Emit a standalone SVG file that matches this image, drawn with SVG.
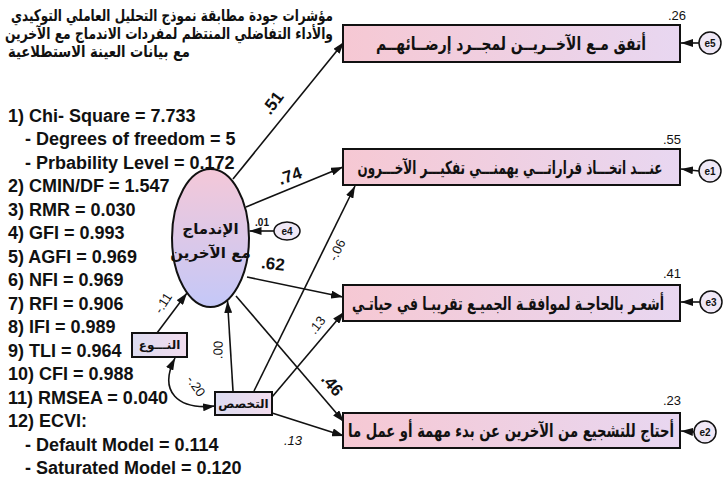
<svg xmlns="http://www.w3.org/2000/svg" width="724" height="479" viewBox="0 0 724 479">
<style>
.stat{font-family:"Liberation Sans",Arial,sans-serif;font-weight:bold;font-size:18px;fill:#111}
.ar{font-family:"DejaVu Sans","Noto Sans",sans-serif;font-weight:bold;fill:#111}
.box{stroke:#111;stroke-width:2;fill:url(#gBox)}
.sbox{stroke:#111;stroke-width:2;fill:url(#gSmall)}
.err{stroke:#111;stroke-width:1.5;fill:#efe8f6}
.edge{stroke:#111;stroke-width:1.6;fill:none;marker-end:url(#ah)}
.big{font-family:"Liberation Sans",Arial,sans-serif;font-weight:bold;font-size:17px;fill:#111}
.sm{font-family:"Liberation Sans",Arial,sans-serif;font-size:13px;fill:#111}
.et{font-family:"Liberation Sans",Arial,sans-serif;font-size:10px;font-weight:bold;fill:#111}
</style>
<defs>
<linearGradient id="gBox" x1="0" y1="0" x2="1" y2="0">
<stop offset="0" stop-color="#f6c8d3"/><stop offset="1" stop-color="#e8d7f1"/>
</linearGradient>
<linearGradient id="gSmall" x1="0" y1="0" x2="1" y2="0">
<stop offset="0" stop-color="#dcdcf0"/><stop offset="1" stop-color="#f2dcee"/>
</linearGradient>
<linearGradient id="gEll" x1="0" y1="0" x2="0" y2="1">
<stop offset="0" stop-color="#f4c8d8"/><stop offset="1" stop-color="#c4c8f8"/>
</linearGradient>
<marker id="ah" viewBox="0 0 12 8" refX="12" refY="4" markerWidth="12" markerHeight="8" markerUnits="userSpaceOnUse" orient="auto-start-reverse">
<path d="M0,0 L12,4 L0,8 Z" fill="#111"/>
</marker>
</defs>

<g id="title">
<text class="ar" font-size="16" x="333" y="21" text-anchor="end" textLength="322" lengthAdjust="spacingAndGlyphs">مؤشرات جودة مطابقة نموذج التحليل العاملي التوكيدي</text>
<text class="ar" font-size="16" x="333" y="39" text-anchor="end" textLength="328" lengthAdjust="spacingAndGlyphs">والأداء التفاضلي المنتظم لمفردات الاندماج مع الآخرين</text>
<text class="ar" font-size="16" x="8" y="57" text-anchor="start" textLength="182" lengthAdjust="spacingAndGlyphs">مع بيانات العينة الاستطلاعية</text>
</g>

<g id="stats">
<text class="stat" x="8" y="121.5">1) Chi- Square = 7.733</text>
<text class="stat" x="25" y="145">- Degrees of freedom = 5</text>
<text class="stat" x="25" y="168.5">- Prbability Level = 0.172</text>
<text class="stat" x="8" y="192">2) CMIN/DF = 1.547</text>
<text class="stat" x="8" y="215.5">3) RMR = 0.030</text>
<text class="stat" x="8" y="239">4) GFI = 0.993</text>
<text class="stat" x="8" y="262.5">5) AGFI = 0.969</text>
<text class="stat" x="8" y="286">6) NFI = 0.969</text>
<text class="stat" x="8" y="309.5">7) RFI = 0.906</text>
<text class="stat" x="8" y="333">8) IFI = 0.989</text>
<text class="stat" x="8" y="356.5">9) TLI = 0.964</text>
<text class="stat" x="8" y="380">10) CFI = 0.988</text>
<text class="stat" x="8" y="403.5">11) RMSEA = 0.040</text>
<text class="stat" x="8" y="427">12) ECVI:</text>
<text class="stat" x="25" y="450.5">- Default Model = 0.114</text>
<text class="stat" x="25" y="474">- Saturated Model = 0.120</text>
</g>

<g id="connectors">
<path class="edge" d="M233,179 L344,42"/>
<path class="edge" d="M246,207 L343,167"/>
<path class="edge" d="M247,277 L343,297"/>
<path class="edge" d="M236,296 L344,422"/>
<path class="edge" d="M274,231 L249.5,231"/>
<path class="edge" d="M157,333 L187,293"/>
<path class="edge" d="M233,391 L227.5,301"/>
<path class="edge" d="M254,391 L355,186"/>
<path class="edge" d="M272,397 L344,312"/>
<path class="edge" d="M272,413 L344,436"/>
<path class="edge" d="M175,358 C158,392 178,410 215,406" style="marker-start:url(#ah)"/>
<path class="edge" d="M699,43 L681,43"/>
<path class="edge" d="M699,171 L681,169"/>
<path class="edge" d="M700,302 L681,302"/>
<path class="edge" d="M694,432 L681,431"/>
</g>

<g id="labels">
<text class="big" x="273" y="103" text-anchor="middle" dominant-baseline="central" transform="rotate(-53 273 103)">.51</text>
<text class="big" x="290" y="176" text-anchor="middle" dominant-baseline="central" transform="rotate(-18 290 176)">.74</text>
<text class="big" x="273" y="264" text-anchor="middle" dominant-baseline="central" transform="rotate(6 273 264)">.62</text>
<text class="big" x="332" y="385" text-anchor="middle" dominant-baseline="central" transform="rotate(50 332 385)">.46</text>
<text class="et" x="262" y="222" text-anchor="middle" dominant-baseline="central">.01</text>
<text class="sm" x="337" y="250" text-anchor="middle" dominant-baseline="central" transform="rotate(-64 337 250)">-.06</text>
<text class="sm" x="317" y="325" text-anchor="middle" dominant-baseline="central" transform="rotate(-52 317 325)">.13</text>
<text class="sm" x="218" y="350" text-anchor="middle" dominant-baseline="central" transform="rotate(-88 218 350)">.00</text>
<text class="sm" x="196" y="386" text-anchor="middle" dominant-baseline="central" transform="rotate(55 196 386)">-.20</text>
<text class="sm" x="163" y="303" text-anchor="middle" dominant-baseline="central" transform="rotate(-58 163 303)">-.11</text>
<text class="sm" x="293" y="440" text-anchor="middle" dominant-baseline="central" font-style="italic">.13</text>
<text class="sm" x="677" y="15" text-anchor="middle" dominant-baseline="central">.26</text>
<text class="sm" x="672" y="139" text-anchor="middle" dominant-baseline="central">.55</text>
<text class="sm" x="672" y="273" text-anchor="middle" dominant-baseline="central">.41</text>
<text class="sm" x="672" y="400" text-anchor="middle" dominant-baseline="central">.23</text>
</g>

<g id="node-latent">
<ellipse cx="210.5" cy="238" rx="38.5" ry="69" stroke="#111" stroke-width="2" fill="url(#gEll)"/>
<text class="ar" font-size="15" x="210.5" y="234" text-anchor="middle">الإندماج</text>
<text class="ar" font-size="15" x="210.5" y="258" text-anchor="middle">مع الآخرين</text>
</g>

<g id="node-e4">
<ellipse class="err" cx="287" cy="231" rx="13" ry="9"/>
<text class="et" x="287" y="231" text-anchor="middle" dominant-baseline="central">e4</text>
</g>

<g id="node-gender">
<rect class="sbox" x="132" y="333" width="55" height="24"/>
<text class="ar" font-size="12" x="159.5" y="349" text-anchor="middle">النـــوع</text>
</g>

<g id="node-spec">
<rect class="sbox" x="215" y="392" width="57" height="23"/>
<text class="ar" font-size="12" x="243.5" y="408" text-anchor="middle">التخصص</text>
</g>

<g id="node-item1">
<rect class="box" x="343" y="25" width="337" height="37"/>
<text class="ar" font-size="18" x="511" y="50" text-anchor="middle" textLength="270" lengthAdjust="spacingAndGlyphs">أتفق مـع الآخــريــن لمجــرد إرضــائهــم</text>
</g>
<g id="node-e5">
<circle class="err" cx="710" cy="43" r="11"/>
<text class="et" x="710" y="43" text-anchor="middle" dominant-baseline="central">e5</text>
</g>

<g id="node-item2">
<rect class="box" x="343" y="149" width="337" height="36"/>
<text class="ar" font-size="18" x="510" y="174" text-anchor="middle" textLength="305" lengthAdjust="spacingAndGlyphs">عنـــد اتخـــاذ قراراتـــي يهمنـــي تفكيـــر الآخـــرون</text>
</g>
<g id="node-e1">
<circle class="err" cx="710" cy="171" r="11"/>
<text class="et" x="710" y="171" text-anchor="middle" dominant-baseline="central">e1</text>
</g>

<g id="node-item3">
<rect class="box" x="343" y="285" width="337" height="36"/>
<text class="ar" font-size="18" x="508" y="310" text-anchor="middle" textLength="312" lengthAdjust="spacingAndGlyphs">أشعـر بالحاجـة لموافقـة الجميـع تقريبـا في حياتـي</text>
</g>
<g id="node-e3">
<circle class="err" cx="711" cy="302" r="11"/>
<text class="et" x="711" y="302" text-anchor="middle" dominant-baseline="central">e3</text>
</g>

<g id="node-item4">
<rect class="box" x="343" y="413" width="337" height="35"/>
<text class="ar" font-size="18" x="511" y="437" text-anchor="middle" textLength="326" lengthAdjust="spacingAndGlyphs">أحتاج للتشجيع من الآخرين عن بدء مهمة أو عمل ما</text>
</g>
<g id="node-e2">
<circle class="err" cx="705" cy="432" r="11"/>
<text class="et" x="705" y="432" text-anchor="middle" dominant-baseline="central">e2</text>
</g>
</svg>
